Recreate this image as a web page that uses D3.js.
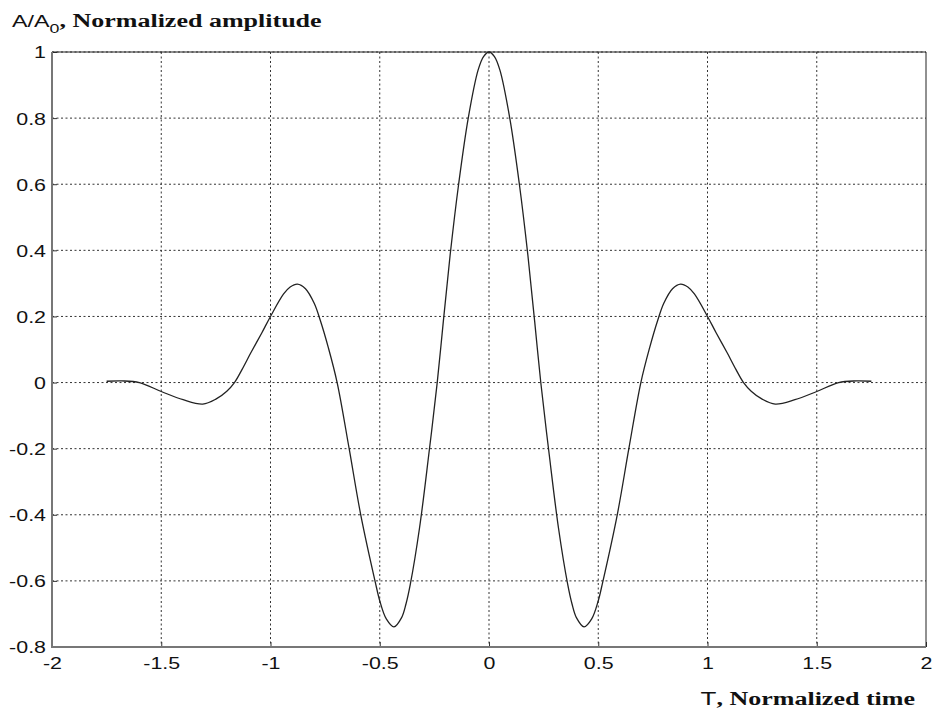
<!DOCTYPE html>
<html lang="en">
<head>
    <meta charset="UTF-8">
    <title>Normalized amplitude</title>
    <script src="https://d3js.org/d3.v7.min.js"></script>
    <style>
        body { margin: 0; background: #fff; }
        .tick text { font-family: Arial, "Liberation Sans", sans-serif; }
    </style>
</head>
<body>
    <script>
        // values
        var timeValues = [-1.75, -1.68, -1.6, -1.5, -1.4, -1.31, -1.25, -1.2, -1.165, -1.13, -1.09, -1.04, -1.0,
            -0.94, -0.91, -0.877, -0.84, -0.8, -0.773, -0.735, -0.695, -0.64, -0.587, -0.52, -0.5, -0.47, -0.435,
            -0.4, -0.38, -0.36, -0.318, -0.276, -0.237, -0.209, -0.178, -0.139, -0.095, -0.05, -0.025, 0,
            0.025, 0.05, 0.095, 0.139, 0.178, 0.209, 0.237, 0.276, 0.318, 0.36, 0.38, 0.4,
            0.435, 0.47, 0.5, 0.52, 0.587, 0.64, 0.695, 0.735, 0.773, 0.8, 0.84, 0.877, 0.91, 0.94,
            1.0, 1.04, 1.09, 1.13, 1.165, 1.2, 1.25, 1.31, 1.4, 1.5, 1.6, 1.68, 1.75];
        var amplitude = [0.004, 0.005, 0.0, -0.027, -0.052, -0.065, -0.05, -0.026, 0.0, 0.04, 0.09, 0.15, 0.2,
            0.268, 0.289, 0.298, 0.284, 0.24, 0.19, 0.105, 0.0, -0.2, -0.4, -0.605, -0.66, -0.715, -0.739,
            -0.711, -0.67, -0.61, -0.44, -0.22, 0.0, 0.185, 0.385, 0.6, 0.8, 0.945, 0.986, 1.0,
            0.986, 0.945, 0.8, 0.6, 0.385, 0.185, 0.0, -0.22, -0.44, -0.61, -0.67, -0.711,
            -0.739, -0.715, -0.66, -0.605, -0.4, -0.2, 0.0, 0.105, 0.19, 0.24, 0.284, 0.298, 0.289, 0.268,
            0.2, 0.15, 0.09, 0.04, 0.0, -0.026, -0.05, -0.065, -0.052, -0.027, 0.0, 0.005, 0.004];
        var xTicks = [-2, -1.5, -1, -0.5, 0, 0.5, 1, 1.5, 2];
        var yTicks = [-0.8, -0.6, -0.4, -0.2, 0, 0.2, 0.4, 0.6, 0.8, 1];

        var width = 934, height = 714;
        var m = { left: 52, right: 926, top: 52, bottom: 647 };
        var stretch = 1.26; // the picture's text is wider than it is tall

        var x = d3.scaleLinear().domain([-2, 2]).range([m.left, m.right]);
        var y = d3.scaleLinear().domain([-0.8, 1]).range([m.bottom, m.top]);
        var fmt = d => String(d);

        var svg = d3.select("body").append("svg")
            .attr("width", width)
            .attr("height", height);

        // grid
        svg.append("g").selectAll("line")
            .data(xTicks.slice(1, -1))
            .enter().append("line")
            .attr("x1", d => x(d)).attr("x2", d => x(d))
            .attr("y1", m.top).attr("y2", m.bottom)
            .style("stroke", "#333").style("stroke-width", 1)
            .style("stroke-dasharray", "2,2.5");
        svg.append("g").selectAll("line")
            .data(yTicks.slice(1))
            .enter().append("line")
            .attr("x1", m.left).attr("x2", m.right)
            .attr("y1", d => y(d)).attr("y2", d => y(d))
            .style("stroke", "#333").style("stroke-width", 1)
            .style("stroke-dasharray", "2,2.5");

        // axes
        var xAxis = d3.axisBottom(x).tickValues(xTicks).tickSize(-5).tickFormat(fmt);
        var yAxis = d3.axisLeft(y).tickValues(yTicks).tickSize(-5).tickFormat(fmt);

        var gx = svg.append("g").attr("transform", "translate(0," + m.bottom + ")").call(xAxis);
        var gy = svg.append("g").attr("transform", "translate(" + m.left + ",0)").call(yAxis);
        [gx, gy].forEach(g => {
            g.select(".domain").remove();
            g.selectAll(".tick line").style("stroke", "#333");
            g.selectAll(".tick text").style("font-size", "17px").style("fill", "#111");
        });
        gx.selectAll(".tick text")
            .attr("x", 0).attr("y", 10).attr("dy", "0.71em")
            .attr("transform", "scale(" + stretch + ",1)");
        gy.selectAll(".tick text")
            .attr("x", -6 / stretch).attr("dy", "0.35em")
            .attr("transform", "scale(" + stretch + ",1)");

        // box
        svg.append("line").attr("x1", m.left).attr("x2", m.right).attr("y1", m.top).attr("y2", m.top)
            .style("stroke", "#222").style("stroke-width", 1);
        svg.append("line").attr("x1", m.right).attr("x2", m.right).attr("y1", m.top).attr("y2", m.bottom)
            .style("stroke", "#222").style("stroke-width", 1);
        svg.append("line").attr("x1", m.left).attr("x2", m.left).attr("y1", m.top).attr("y2", m.bottom + 1)
            .style("stroke", "#777").style("stroke-width", 2);
        svg.append("line").attr("x1", m.left - 1).attr("x2", m.right).attr("y1", m.bottom).attr("y2", m.bottom)
            .style("stroke", "#777").style("stroke-width", 2);

        // curve
        var points = timeValues.map((t, i) => [t, amplitude[i]]);
        var line = d3.line()
            .x(d => x(d[0]))
            .y(d => y(d[1]))
            .curve(d3.curveCatmullRom.alpha(0.5));
        svg.append("path")
            .datum(points)
            .attr("d", line)
            .style("fill", "none")
            .style("stroke", "#222")
            .style("stroke-width", 1.3);

        // labels
        var yl = svg.append("text")
            .attr("transform", "translate(12,27) scale(1.37,1)")
            .style("font-size", "19px").style("fill", "#111");
        yl.append("tspan").style("font-family", "Arial, 'Liberation Sans', sans-serif")
            .style("font-size", "17px").text("A/A");
        yl.append("tspan").style("font-family", "Arial, 'Liberation Sans', sans-serif")
            .style("font-size", "13px").attr("dy", 6).text("0");
        yl.append("tspan").attr("dy", -6)
            .style("font-family", "'Times New Roman', 'Liberation Serif', serif")
            .style("font-weight", "bold").text(", Normalized amplitude");

        var xl = svg.append("text")
            .attr("transform", "translate(915,705) scale(1.37,1)")
            .attr("text-anchor", "end")
            .style("font-size", "19px").style("fill", "#111");
        xl.append("tspan").style("font-family", "Arial, 'Liberation Sans', sans-serif")
            .style("font-weight", "normal").text("T");
        xl.append("tspan")
            .style("font-family", "'Times New Roman', 'Liberation Serif', serif")
            .style("font-weight", "bold").text(", Normalized time");
    </script>
</body>
</html>
